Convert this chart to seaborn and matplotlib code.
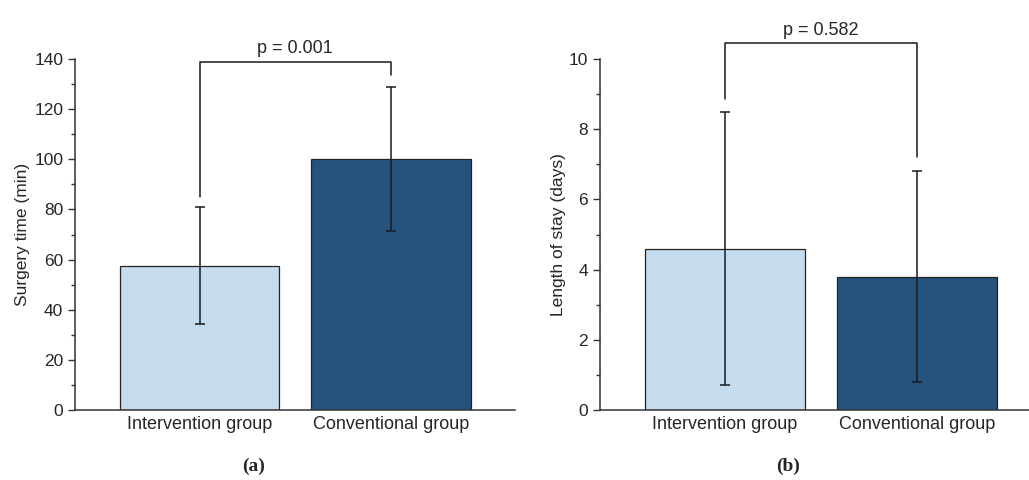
import matplotlib
matplotlib.use('Agg')
import matplotlib.pyplot as plt
import seaborn as sns
import pandas as pd

# data
groups = ['Intervention group', 'Conventional group']
colors = ['#c5dcef', '#26537d']

surgery_mean = [57.5, 100.0]
surgery_sd = [23.3, 28.8]
surgery_p = 'p = 0.001'
surgery_bracket = [85, 139, 133.5]   # left leg end, top, right leg end

stay_mean = [4.6, 3.8]
stay_sd = [3.9, 3.0]
stay_p = 'p = 0.582'
stay_bracket = [8.85, 10.45, 7.2]

sns.set_style('ticks')
plt.rcParams['font.family'] = ['Liberation Sans', 'DejaVu Sans']

fig = plt.figure(figsize=(10.29, 4.8), dpi=100)
W, H = 1029, 480
ax_a = fig.add_axes([75 / W, 1 - 410 / H, 440 / W, 351 / H])
ax_b = fig.add_axes([600 / W, 1 - 410 / H, 429 / W, 351 / H])


def panel(ax, means, sds, ylabel, ylpad, ymax, step, minor, bracket, ptext, xlim):
    df = pd.DataFrame({'group': groups, 'value': means})
    sns.barplot(data=df, x='group', y='value', hue='group', palette=colors,
                saturation=1, width=0.835, edgecolor='#222222', linewidth=0.9,
                ax=ax, legend=False, zorder=2)
    ax.errorbar(range(len(groups)), means, yerr=sds, fmt='none', ecolor='#1a1a1a',
                elinewidth=1.1, capsize=3.5, capthick=1.1, zorder=3)
    l, top, r = bracket
    ax.plot([0, 0, 1, 1], [l, top, top, r], color='#1a1a1a', lw=1.1,
            clip_on=False, zorder=3)
    ax.text(0.5, top + ymax * 0.012, ptext, ha='center', va='bottom',
            fontsize=13, clip_on=False)
    ax.set_ylim(0, ymax)
    ax.set_xlim(*xlim)
    ax.set_yticks([i * step for i in range(int(ymax / step) + 1)])
    ax.set_yticks([minor + i * step for i in range(int(ymax / step))], minor=True)
    ax.tick_params(axis='y', which='major', length=5, width=1, labelsize=12.5,
                   color='#333333')
    ax.tick_params(axis='y', which='minor', length=3, width=1, color='#333333')
    ax.tick_params(axis='x', length=0, labelsize=13, pad=4)
    ax.set_xlabel('')
    ax.set_ylabel(ylabel, fontsize=12.5, labelpad=ylpad)
    for s in ['top', 'right']:
        ax.spines[s].set_visible(False)
    for s in ['left', 'bottom']:
        ax.spines[s].set_color('#333333')
        ax.spines[s].set_linewidth(1.1)


panel(ax_a, surgery_mean, surgery_sd, 'Surgery time (min)', 3, 140, 20, 10,
      surgery_bracket, surgery_p, (-0.65, 1.647))
panel(ax_b, stay_mean, stay_sd, 'Length of stay (days)', 2, 10, 2, 1,
      stay_bracket, stay_p, (-0.651, 1.583))

serif = ['Liberation Serif', 'DejaVu Serif']
fig.text(254 / W, 1 - 466 / H, '(a)', ha='center', va='center', fontsize=14,
         fontweight='bold', family=serif)
fig.text(788 / W, 1 - 466 / H, '(b)', ha='center', va='center', fontsize=14,
         fontweight='bold', family=serif)

fig.savefig('out.png', dpi=100)
